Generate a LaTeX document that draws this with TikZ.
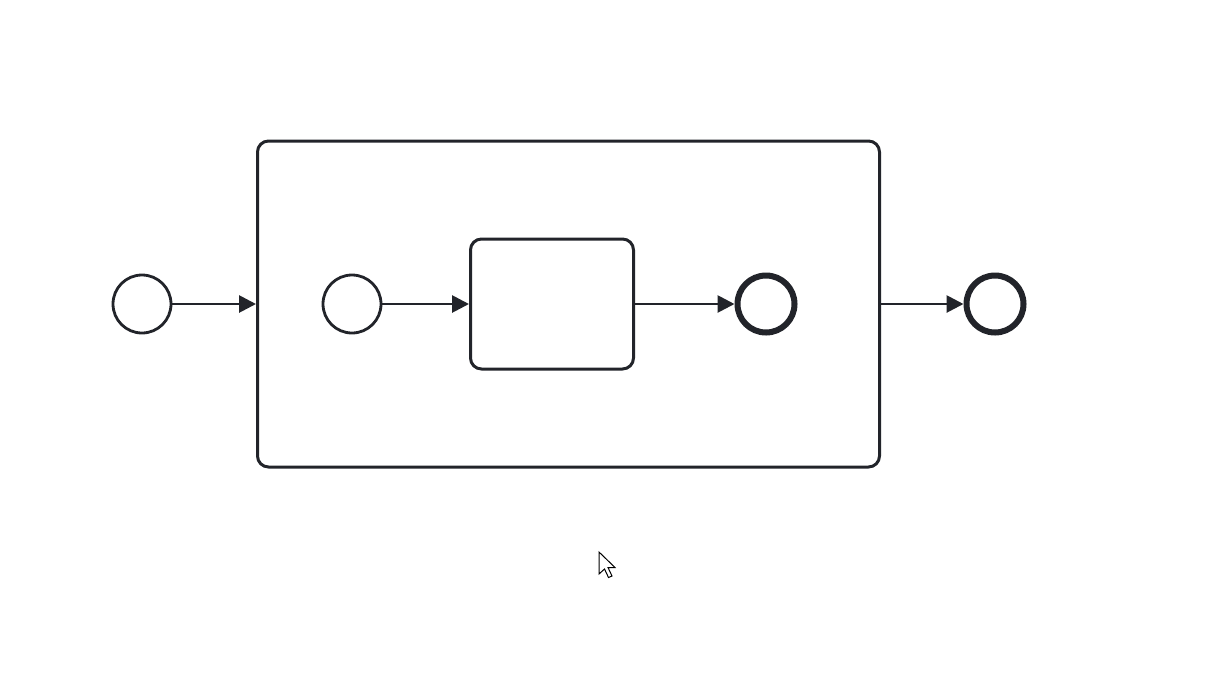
\documentclass[tikz,border=0pt]{standalone}
\usetikzlibrary{arrows.meta}
\definecolor{ink}{HTML}{22242A}
\begin{document}
\begin{tikzpicture}[x=1pt,y=-1pt,
  evt/.style={circle,draw=ink,line width=2.8pt,minimum size=58pt,inner sep=0pt,fill=white},
  endevt/.style={circle,draw=ink,line width=6pt,minimum size=57pt,inner sep=0pt,fill=white},
  box/.style={rectangle,rounded corners=11pt,draw=ink,line width=3pt,inner sep=0pt},
  flow/.style={draw=ink,line width=2.8pt,-{Triangle[length=17pt,width=17pt]}}]
\useasboundingbox (0,0) rectangle (1217,681);
\node[box,minimum width=622pt,minimum height=326pt] (sub) at (568.5,304) {};
\node[box,minimum width=163pt,minimum height=130pt] (task) at (552,304) {};
\node[evt] (s1) at (142,304) {};
\node[evt] (s2) at (352,304) {};
\node[endevt] (e1) at (766,304) {};
\node[endevt] (e2) at (995,304) {};
\draw[flow] (s1.east) -- (sub.west);
\draw[flow] (s2.east) -- (task.west);
\draw[flow] (task.east) -- (e1.west);
\draw[flow] (sub.east) -- (e2.west);
% mouse cursor
\draw[black,fill=white,line width=1pt,line join=miter]
  (599,552) -- (599,574) -- (604.5,569) -- (608.5,577.5) -- (612,576) -- (608,567.5) -- (615,567.5) -- cycle;
\end{tikzpicture}
\end{document}
